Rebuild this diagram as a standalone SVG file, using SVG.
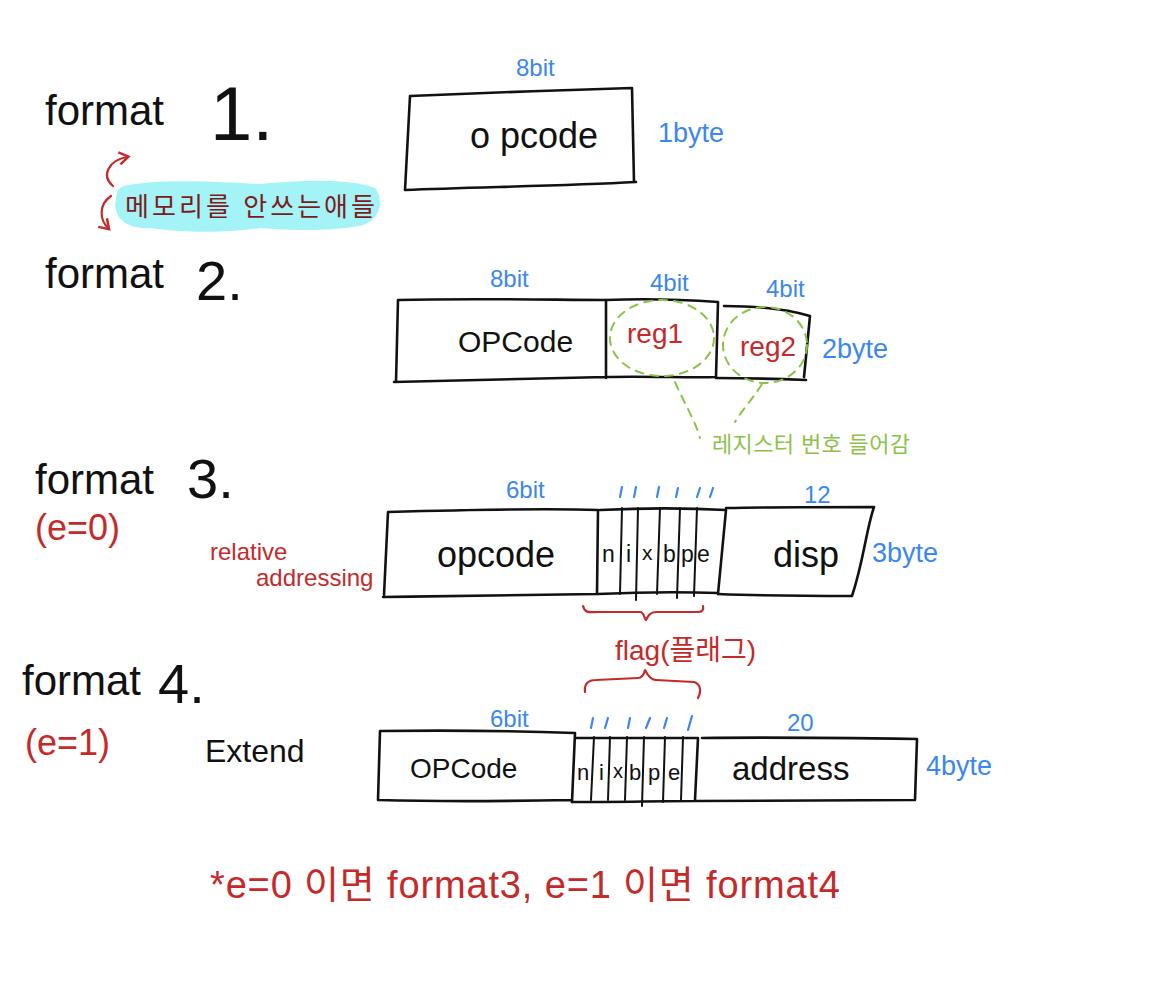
<svg xmlns="http://www.w3.org/2000/svg" width="1149" height="1000" viewBox="0 0 1149 1000">
<style>
.bg{fill:#ffffff}
.box{fill:none;stroke:#111;stroke-width:2.6;stroke-linecap:round;stroke-linejoin:round}
.div{fill:none;stroke:#111;stroke-width:2;stroke-linecap:round}
.t{font-family:"Liberation Sans","Noto Sans CJK KR",sans-serif}
.blk{fill:#111}
.blue{fill:#3b86ef}
.red{fill:#c42a2a}
.green{fill:#8cc24a}
.dred{fill:#7d1b1b}
.title{font-size:42px}
.num{font-size:56px}
.code{font-size:36px}
.lbl{font-size:24px}
.bytes{font-size:27px}
.gdash{fill:none;stroke:#8cc24a;stroke-width:2;stroke-dasharray:8 7;stroke-linecap:round}
.rline{fill:none;stroke:#c42a2a;stroke-width:2.2;stroke-linecap:round;stroke-linejoin:round}
.tick{fill:none;stroke:#3b86ef;stroke-width:2.2;stroke-linecap:round}
</style>
<defs>
<marker id="rarrow" viewBox="0 0 10 10" refX="6" refY="5" markerWidth="7" markerHeight="7" orient="auto-start-reverse">
<path d="M1,1 L7,5 L1,9" fill="none" stroke="#c42a2a" stroke-width="1.6"/>
</marker>
</defs>
<rect class="bg" x="0" y="0" width="1149" height="1000"/>

<!-- Format 1 -->
<g id="title1">
<text class="t blk title" x="45" y="125">format</text>
<text class="t blk" x="210" y="140" font-size="76">1.</text>
</g>
<g id="f1-opcode">
<path class="box" d="M410,96 C480,93 560,90 632,88 L634,182 M405,190 C480,187 560,186 636,182 M410,96 L405,190"/>
<text class="t blk code" x="470" y="148">o pcode</text>
<text class="t blue lbl" x="516" y="76">8bit</text>
<text class="t blue bytes" x="658" y="142">1byte</text>
</g>
<g id="note-memory">
<path d="M124,186 C160,178 220,182 260,184 C300,180 350,178 375,188 C385,200 380,222 360,226 C320,232 290,230 260,228 C220,234 180,232 150,228 C125,230 112,215 116,200 C116,192 118,188 124,186 Z" fill="#a3f3f7"/>
<text class="t dred" x="125" y="216" font-size="26" textLength="250">메모리를 안쓰는애들</text>
</g>

<!-- Format 2 -->
<g id="title2">
<text class="t blk title" x="45" y="288">format</text>
<text class="t blk num" x="196" y="300">2.</text>
</g>
<g id="f2-opcode">
<path class="box" d="M398,300 C470,298 560,300 606,300 L606,378 M394,382 C480,380 560,378 606,377 M398,300 L396,382"/>
<text class="t blk" x="458" y="352" font-size="30">OPCode</text>
<text class="t blue lbl" x="490" y="287">8bit</text>
</g>
<g id="f2-reg1">
<path class="box" d="M606,300 C650,298 690,300 718,302 L716,377 M606,377 C650,376 690,378 716,377"/>
<text class="t red" x="627" y="343" font-size="28">reg1</text>
<text class="t blue lbl" x="650" y="291">4bit</text>
<ellipse class="gdash" cx="662" cy="338" rx="52" ry="38"/>
</g>
<g id="f2-reg2">
<path class="box" d="M724,306 C760,306 790,310 810,316 L804,377 M716,378 C750,378 780,379 806,380"/>
<text class="t red" x="740" y="356" font-size="28">reg2</text>
<text class="t blue lbl" x="766" y="297">4bit</text>
<text class="t blue bytes" x="822" y="358">2byte</text>
<ellipse class="gdash" cx="765" cy="345" rx="42" ry="38"/>
</g>
<g id="note-register">
<text class="t green" x="712" y="452" font-size="22" textLength="198">레지스터 번호 들어감</text>
</g>

<!-- Format 3 -->
<g id="title3">
<text class="t blk title" x="35" y="494">format</text>
<text class="t blk num" x="187" y="498">3.</text>
<text class="t red" x="35" y="540" font-size="36">(e=0)</text>
<text class="t red" x="210" y="560" font-size="24">relative</text>
<text class="t red" x="256" y="586" font-size="24">addressing</text>
</g>
<g id="f3-opcode">
<path class="box" d="M388,512 C460,510 540,508 598,510 L597,594 M383,597 C460,596 540,595 598,594 M388,512 L384,595"/>
<text class="t blk code" x="437" y="567">opcode</text>
<text class="t blue lbl" x="506" y="498">6bit</text>
</g>
<g id="f3-flags">
<path class="box" d="M600,510 C640,508 690,508 726,510 L718,594 M598,594 C640,592 690,592 718,593"/>
<path class="div" d="M622,508 L620,594 M638,508 L636,600 M660,508 L657,594 M680,508 L677,598 M697,508 L694,596"/>
<text class="t blk" x="602" y="562" font-size="23">n</text>
<text class="t blk" x="626" y="562" font-size="23">i</text>
<text class="t blk" x="642" y="560" font-size="21">x</text>
<text class="t blk" x="663" y="562" font-size="23">b</text>
<text class="t blk" x="681" y="562" font-size="23">p</text>
<text class="t blk" x="697" y="562" font-size="23">e</text>
<path class="tick" d="M622,487 L620,497 M636,487 L634,497 M659,487 L657,497 M678,488 L676,497 M700,488 L697,497 M713,488 L710,497"/>
</g>
<g id="f3-disp">
<path class="box" d="M726,508 C780,507 830,507 874,507 C866,530 864,560 852,596 M718,594 C770,596 810,596 852,596"/>
<text class="t blk code" x="773" y="567">disp</text>
<text class="t blue lbl" x="804" y="503">12</text>
<text class="t blue bytes" x="872" y="562">3byte</text>
</g>
<g id="label-flag">
<text class="t red" x="615" y="660" font-size="28">flag(플래그)</text>
</g>

<!-- Format 4 -->
<g id="title4">
<text class="t blk title" x="22" y="695">format</text>
<text class="t blk num" x="158" y="703">4.</text>
<text class="t red" x="25" y="755" font-size="36">(e=1)</text>
<text class="t blk" x="205" y="762" font-size="32">Extend</text>
</g>
<g id="f4-opcode">
<path class="box" d="M380,731 C450,730 520,731 575,733 L572,802 M378,800 C450,802 520,801 572,800 M380,731 L378,800"/>
<text class="t blk" x="410" y="778" font-size="28">OPCode</text>
<text class="t blue lbl" x="490" y="727">6bit</text>
</g>
<g id="f4-flags">
<path class="box" d="M576,738 L698,738 L695,800 M572,802 C620,802 660,801 695,801"/>
<path class="div" d="M594,737 L591,800 M610,737 L608,800 M627,737 L625,800 M644,737 L642,806 M665,737 L663,802 M683,737 L681,800"/>
<text class="t blk" x="577" y="780" font-size="22">n</text>
<text class="t blk" x="599" y="780" font-size="22">i</text>
<text class="t blk" x="613" y="778" font-size="20">x</text>
<text class="t blk" x="629" y="780" font-size="22">b</text>
<text class="t blk" x="648" y="780" font-size="22">p</text>
<text class="t blk" x="668" y="780" font-size="22">e</text>
<path class="tick" d="M593,718 L591,728 M608,718 L605,728 M630,718 L628,728 M650,718 L646,728 M667,718 L664,728 M692,716 L688,730"/>
</g>
<g id="f4-address">
<path class="box" d="M702,738 C780,737 850,738 917,739 L915,800 M696,801 C780,800 850,800 915,800"/>
<text class="t blk" x="732" y="780" font-size="33">address</text>
<text class="t blue lbl" x="787" y="731">20</text>
<text class="t blue bytes" x="926" y="775">4byte</text>
</g>

<g id="note-bottom">
<text class="t red" x="210" y="898" font-size="38" textLength="630">*e=0 이면 format3, e=1 이면 format4</text>
</g>

<g id="connectors">
<path class="rline" d="M113,186 C100,175 110,160 127,157" marker-end="url(#rarrow)"/>
<path class="rline" d="M111,196 C98,205 100,220 108,228" marker-end="url(#rarrow)"/>
<path class="gdash" d="M675,382 C685,405 695,420 700,438"/>
<path class="gdash" d="M762,384 C752,400 742,410 735,422"/>
<path class="rline" d="M583,606 C585,614 590,612 600,612 L640,612 C644,612 644,618 646,620 C648,616 650,612 656,612 L698,612 C702,612 704,610 703,606"/>
<path class="rline" d="M585,692 C584,684 588,680 596,680 L638,678 C642,678 644,674 645,670 C647,674 650,680 656,680 L694,682 C700,684 702,690 698,698"/>
</g>
</svg>
